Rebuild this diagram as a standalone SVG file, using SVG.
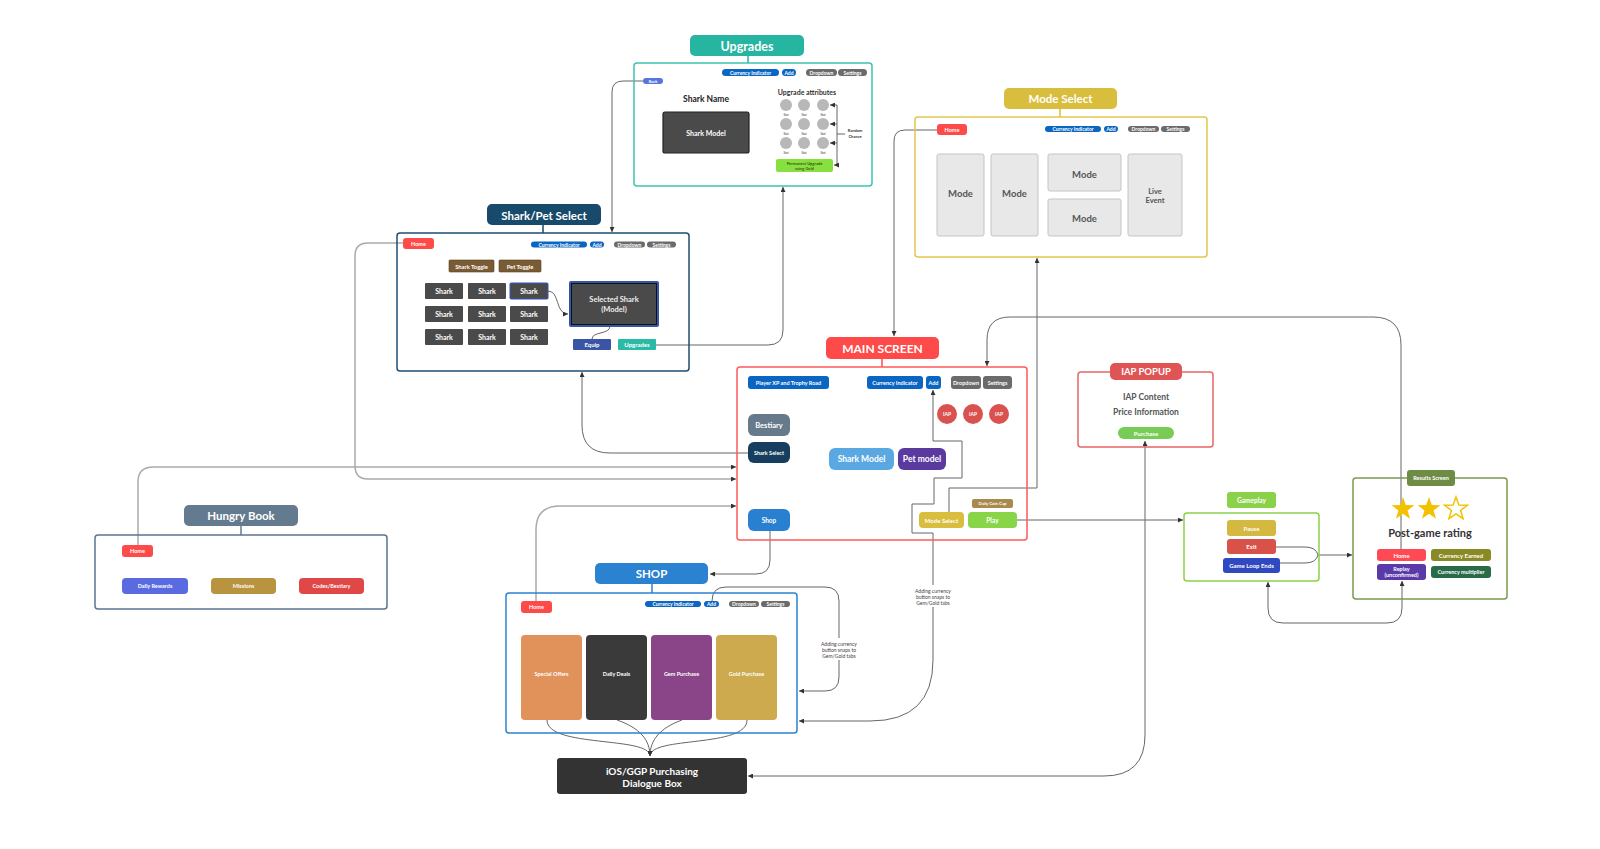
<svg xmlns="http://www.w3.org/2000/svg" width="1600" height="849" viewBox="0 0 1600 849">
<defs>
<marker id="arr" viewBox="0 0 6 6" markerWidth="5" markerHeight="5" refX="6" refY="3" orient="auto-start-reverse" markerUnits="userSpaceOnUse"><path d="M0,0 L6,3 L0,6 z" fill="#333"/></marker>
<polygon id="star" points="0,-12 2.82,-3.88 11.41,-3.71 4.57,1.48 7.05,9.71 0,4.8 -7.05,9.71 -4.57,1.48 -11.41,-3.71 -2.82,-3.88"/>
<style>
text{font-family:Lato,"Liberation Sans",sans-serif;font-weight:bold;text-anchor:middle;dominant-baseline:central}
.w{fill:#fff}
.box{fill:none;stroke-width:1.5}
.c{fill:none;stroke:#666;stroke-width:1}
.h{fill:none;stroke:#aaa;stroke-width:1.5}
.ci{fill:#0a66c2}
.gr{fill:#6b6b6b}
.home{fill:#ff4a4a}
.sh{fill:#4a4a4a}
.tile{fill:#e8e8e8;stroke:#c4c4c4;stroke-width:1}
.mode{fill:#555;font-size:9.5px}
.stat{fill:#b8b8b8}
.st{fill:#333;font-size:3px;font-weight:normal}
.lab{fill:#444;font-size:5px;font-weight:normal}
.sm{font-size:5px}
</style>
</defs>
<rect width="1600" height="849" fill="#fff"/>

<g id="connectors">
<path class="c" d="M937,130 H905 Q894,130 894,141 V336" marker-end="url(#arr)"/>
<path class="c" d="M643,81 H623 Q612,81 612,92 V232" marker-end="url(#arr)"/>
<path class="c" d="M656,345 H768 Q783,345 783,330 V187" marker-end="url(#arr)"/>
<path class="c" d="M748,453 H610 Q582,453 582,425 V372" marker-end="url(#arr)"/>
<path class="h" d="M403,243 H368 Q355,243 355,256 V466 Q355,479 368,479 H736" marker-end="url(#arr)"/>
<path class="h" d="M138,545 V482 Q138,467 153,467 H736" marker-end="url(#arr)"/>
<path class="h" d="M536,601 V530 Q536,506 560,506 H736" marker-end="url(#arr)"/>
<path class="c" d="M770,531 V560 Q770,574 756,574 H710" marker-end="url(#arr)"/>
<path class="c" d="M949,512 V488 H1037 V258" marker-end="url(#arr)"/>
<path class="c" d="M933,390 V441 H962 V478 H934 V504 H912 V533 H933 V660 Q933,721 870,721 H799" marker-start="url(#arr)" marker-end="url(#arr)"/>
<path class="c" d="M712,601 Q712,587 726,587 H825 Q839,587 839,601 V677 Q839,691 825,691 H799" marker-end="url(#arr)"/>
<path class="c" d="M547,720 C547,748 650,736 650,756" marker-end="url(#arr)"/>
<path class="c" d="M617,720 C640,728 650,740 650,756" marker-end="url(#arr)"/>
<path class="c" d="M682,720 C660,728 650,740 650,756" marker-end="url(#arr)"/>
<path class="c" d="M747,720 C747,748 650,736 650,756" marker-end="url(#arr)"/>
<path class="c" d="M1145,441 V735 Q1145,776 1104,776 H748" marker-start="url(#arr)" marker-end="url(#arr)"/>
<path class="c" d="M1017,520 H1183" marker-end="url(#arr)"/>
<path class="c" d="M1276,547 H1305 Q1316,547 1318,555 Q1316,563 1305,563 H1280"/>
<path class="c" d="M1318,555 H1352" marker-end="url(#arr)"/>
<path class="c" d="M1402,581 V608 Q1402,623 1387,623 H1283 Q1268,623 1268,608 V582" marker-start="url(#arr)" marker-end="url(#arr)"/>
<path class="c" d="M1401,549 V345 Q1401,317 1373,317 H1010 Q987,317 987,340 V366" marker-end="url(#arr)"/>
<rect x="908" y="585" width="50" height="22" fill="#fff"/>
<text class="lab" x="933" y="591">Adding currency</text>
<text class="lab" x="933" y="597">button snaps to</text>
<text class="lab" x="933" y="603">Gem/Gold tabs</text>
<rect x="814" y="638" width="50" height="22" fill="#fff"/>
<text class="lab" x="839" y="644">Adding currency</text>
<text class="lab" x="839" y="650">button snaps to</text>
<text class="lab" x="839" y="656">Gem/Gold tabs</text>
</g>

<g id="upgrades">
<rect x="690" y="35" width="114" height="21" rx="5" fill="#26b5a0"/>
<text class="w" x="747" y="46" font-size="12.5">Upgrades</text>
<line x1="748" y1="56" x2="748" y2="63" stroke="#26b5a0" stroke-width="1.5"/>
<rect class="box" x="634" y="63" width="238" height="123" rx="3" stroke="#3cc3b0"/>
<rect x="643" y="78" width="20" height="6" rx="3" fill="#5577dd"/><text class="w" x="653" y="81" font-size="4">Back</text>
<rect class="ci" x="722" y="69" width="57" height="7" rx="3.5"/><text class="w sm" x="750.5" y="72.5">Currency Indicator</text>
<rect class="ci" x="782" y="69" width="14" height="7" rx="3.5"/><text class="w sm" x="789" y="72.5">Add</text>
<rect class="gr" x="806" y="69" width="31" height="7" rx="3.5"/><text class="w sm" x="821.5" y="72.5">Dropdown</text>
<rect class="gr" x="838" y="69" width="29" height="7" rx="3.5"/><text class="w sm" x="852.5" y="72.5">Settings</text>
<text x="706" y="99" font-size="8.5" fill="#222">Shark Name</text>
<rect x="663" y="112" width="86" height="41" rx="2" fill="#4a4a4a" stroke="#222" stroke-width="1.2"/>
<text class="w" x="706" y="133" font-size="7">Shark Model</text>
<text x="807" y="92" font-size="7" fill="#333">Upgrade attributes</text>
<circle class="stat" cx="786" cy="105" r="6"/><circle class="stat" cx="804" cy="105" r="6"/><circle class="stat" cx="823" cy="105" r="6"/>
<circle class="stat" cx="786" cy="124" r="6"/><circle class="stat" cx="804" cy="124" r="6"/><circle class="stat" cx="823" cy="124" r="6"/>
<circle class="stat" cx="786" cy="143" r="6"/><circle class="stat" cx="804" cy="143" r="6"/><circle class="stat" cx="823" cy="143" r="6"/>
<text class="st" x="786" y="115">Stat</text><text class="st" x="804" y="115">Stat</text><text class="st" x="823" y="115">Stat</text>
<text class="st" x="786" y="134">Stat</text><text class="st" x="804" y="134">Stat</text><text class="st" x="823" y="134">Stat</text>
<text class="st" x="786" y="153">Stat</text><text class="st" x="804" y="153">Stat</text><text class="st" x="823" y="153">Stat</text>
<rect x="776" y="159" width="57" height="13" rx="2" fill="#88e040"/>
<text x="804.5" y="163.5" font-size="4" fill="#3a5a10">Permanent Upgrade</text>
<text x="804.5" y="168.5" font-size="4" fill="#3a5a10">using Gold</text>
<path class="c" d="M837,105 V165 M837,134 H845"/>
<path class="c" d="M837,105 H830" marker-end="url(#arr)"/>
<path class="c" d="M837,124 H830" marker-end="url(#arr)"/>
<path class="c" d="M837,143 H830" marker-end="url(#arr)"/>
<path class="c" d="M837,165 H834" marker-end="url(#arr)"/>
<text x="855" y="130" font-size="4" fill="#333">Random</text>
<text x="855" y="136" font-size="4" fill="#333">Chance</text>
</g>

<g id="shark-pet-select">
<rect x="487" y="204" width="114" height="21" rx="5" fill="#174a6b"/>
<text class="w" x="544" y="215" font-size="11.5">Shark/Pet Select</text>
<line x1="543" y1="225" x2="543" y2="233" stroke="#174a6b" stroke-width="1.5"/>
<rect class="box" x="397" y="233" width="292" height="138" rx="3" stroke="#1f4d70"/>
<rect class="home" x="403" y="238" width="31" height="11" rx="3"/><text class="w" x="418.5" y="243.5" font-size="5.5">Home</text>
<rect class="ci" x="531" y="241.5" width="56" height="6" rx="3"/><text class="w sm" x="559" y="244.5">Currency Indicator</text>
<rect class="ci" x="590" y="241.5" width="14" height="6" rx="3"/><text class="w sm" x="597" y="244.5">Add</text>
<rect class="gr" x="614" y="241.5" width="31" height="6" rx="3"/><text class="w sm" x="629.5" y="244.5">Dropdown</text>
<rect class="gr" x="647" y="241.5" width="29" height="6" rx="3"/><text class="w sm" x="661.5" y="244.5">Settings</text>
<rect x="449" y="260" width="45" height="12" rx="1" fill="#7a5c34" stroke="#5a4020" stroke-width="0.6"/><text class="w" x="471.5" y="266" font-size="5.8">Shark Toggle</text>
<rect x="499" y="260" width="42" height="12" rx="1" fill="#7a5c34" stroke="#5a4020" stroke-width="0.6"/><text class="w" x="520" y="266" font-size="5.8">Pet Toggle</text>
<rect class="sh" x="425" y="283" width="38" height="16" rx="1"/><text class="w" x="444" y="291" font-size="7">Shark</text>
<rect class="sh" x="468" y="283" width="38" height="16" rx="1"/><text class="w" x="487" y="291" font-size="7">Shark</text>
<rect class="sh" x="510" y="283" width="38" height="16" rx="1" stroke="#3355bb" stroke-width="1"/><text class="w" x="529" y="291" font-size="7">Shark</text>
<rect class="sh" x="425" y="306" width="38" height="16" rx="1"/><text class="w" x="444" y="314" font-size="7">Shark</text>
<rect class="sh" x="468" y="306" width="38" height="16" rx="1"/><text class="w" x="487" y="314" font-size="7">Shark</text>
<rect class="sh" x="510" y="306" width="38" height="16" rx="1"/><text class="w" x="529" y="314" font-size="7">Shark</text>
<rect class="sh" x="425" y="329" width="38" height="16" rx="1"/><text class="w" x="444" y="337" font-size="7">Shark</text>
<rect class="sh" x="468" y="329" width="38" height="16" rx="1"/><text class="w" x="487" y="337" font-size="7">Shark</text>
<rect class="sh" x="510" y="329" width="38" height="16" rx="1"/><text class="w" x="529" y="337" font-size="7">Shark</text>
<path class="c" d="M548,291 C560,291 555,314 568,314" marker-end="url(#arr)"/>
<path class="c" d="M610,326 C610,335 592,331 592,339" stroke="#333" stroke-width="1.2"/>
<rect x="570" y="282" width="88" height="44" rx="1" fill="#4a4a4a" stroke="#3355aa" stroke-width="2"/>
<rect x="571.5" y="283.5" width="85" height="41" fill="none" stroke="#111" stroke-width="1"/>
<text x="614" y="299" font-size="7.5" fill="#eee">Selected Shark</text>
<text x="614" y="309" font-size="7.5" fill="#eee">(Model)</text>
<rect x="573" y="339" width="38" height="11" rx="1" fill="#3a55a5"/><text class="w" x="592" y="344.5" font-size="6">Equip</text>
<rect x="618" y="339" width="38" height="11" rx="1" fill="#2bbaa5"/><text class="w" x="637" y="344.5" font-size="6">Upgrades</text>
</g>

<g id="mode-select">
<rect x="1004" y="88" width="113" height="21" rx="5" fill="#d9be3e"/>
<text class="w" x="1060.5" y="98.5" font-size="11.5">Mode Select</text>
<line x1="1060" y1="109" x2="1060" y2="117" stroke="#d9be3e" stroke-width="1.5"/>
<rect class="box" x="915" y="117" width="292" height="140" rx="3" stroke="#e3c64e"/>
<rect class="home" x="937" y="124" width="30" height="11" rx="3"/><text class="w" x="952" y="129.5" font-size="5.5">Home</text>
<rect class="ci" x="1045" y="126" width="56" height="6" rx="3"/><text class="w sm" x="1073" y="129">Currency Indicator</text>
<rect class="ci" x="1104" y="126" width="14" height="6" rx="3"/><text class="w sm" x="1111" y="129">Add</text>
<rect class="gr" x="1128" y="126" width="31" height="6" rx="3"/><text class="w sm" x="1143.5" y="129">Dropdown</text>
<rect class="gr" x="1161" y="126" width="29" height="6" rx="3"/><text class="w sm" x="1175.5" y="129">Settings</text>
<rect class="tile" x="937" y="154" width="47" height="82" rx="2"/><text class="mode" x="960.5" y="193">Mode</text>
<rect class="tile" x="991" y="154" width="47" height="82" rx="2"/><text class="mode" x="1014.5" y="193">Mode</text>
<rect class="tile" x="1048" y="154" width="73" height="37" rx="2"/><text class="mode" x="1084.5" y="174">Mode</text>
<rect class="tile" x="1048" y="199" width="73" height="37" rx="2"/><text class="mode" x="1084.5" y="218">Mode</text>
<rect class="tile" x="1128" y="154" width="54" height="82" rx="2"/>
<text x="1155" y="191" font-size="7.5" fill="#555">Live</text>
<text x="1155" y="200" font-size="7.5" fill="#555">Event</text>
</g>

<g id="main-screen">
<rect x="826" y="337" width="113" height="22" rx="5" fill="#ff4a4a"/>
<text class="w" x="882.5" y="348" font-size="12">MAIN SCREEN</text>
<line x1="882" y1="359" x2="882" y2="367" stroke="#ff4a4a" stroke-width="1.5"/>
<rect class="box" x="737" y="367" width="290" height="173" rx="3" stroke="#ff5a5a"/>
<rect class="ci" x="748" y="376" width="81" height="13" rx="3"/><text class="w" x="788.5" y="382.5" font-size="5.5">Player XP and Trophy Road</text>
<rect class="ci" x="867" y="376" width="56" height="13" rx="3"/><text class="w" x="895" y="382.5" font-size="5.5">Currency Indicator</text>
<rect class="ci" x="926" y="376" width="15" height="13" rx="3"/><text class="w" x="933.5" y="382.5" font-size="5.5">Add</text>
<rect class="gr" x="951" y="376" width="30" height="13" rx="3"/><text class="w" x="966" y="382.5" font-size="5.5">Dropdown</text>
<rect class="gr" x="983" y="376" width="29" height="13" rx="3"/><text class="w" x="997.5" y="382.5" font-size="5.5">Settings</text>
<circle cx="947" cy="414" r="10" fill="#d9524f"/><text class="w" x="947" y="414" font-size="5">IAP</text>
<circle cx="973" cy="414" r="10" fill="#d9524f"/><text class="w" x="973" y="414" font-size="5">IAP</text>
<circle cx="999" cy="414" r="10" fill="#d9524f"/><text class="w" x="999" y="414" font-size="5">IAP</text>
<rect x="748" y="414" width="42" height="22" rx="6" fill="#667a8c"/><text class="w" x="769" y="425" font-size="7.5">Bestiary</text>
<rect x="748" y="442" width="42" height="21" rx="6" fill="#163f5f"/><text class="w" x="769" y="452.5" font-size="5.5">Shark Select</text>
<rect x="829" y="448" width="65" height="22" rx="6" fill="#5aa8e2"/><text class="w" x="861.5" y="459" font-size="8.5">Shark Model</text>
<rect x="898" y="448" width="48" height="22" rx="6" fill="#5b3aa0"/><text class="w" x="922" y="459" font-size="8.5">Pet model</text>
<rect x="748" y="509" width="42" height="22" rx="6" fill="#2a80d0"/><text class="w" x="769" y="520" font-size="6.5">Shop</text>
<rect x="972" y="499" width="41" height="9" rx="2" fill="#a88a4e"/><text class="w" x="992.5" y="503.5" font-size="4.3">Daily Coin Cap</text>
<rect x="919" y="512" width="45" height="16" rx="4" fill="#d9be3e"/><text class="w" x="941.5" y="520" font-size="6">Mode Select</text>
<rect x="968" y="512" width="49" height="16" rx="4" fill="#88d648"/><text class="w" x="992.5" y="520" font-size="6.5">Play</text>
</g>

<g id="iap-popup">
<rect class="box" x="1078" y="372" width="135" height="75" rx="3" stroke="#e86565"/>
<rect x="1110" y="363" width="72" height="17" rx="5" fill="#df5555"/>
<text class="w" x="1146" y="371.5" font-size="9.5">IAP POPUP</text>
<text x="1146" y="397" font-size="8.5" fill="#555">IAP Content</text>
<text x="1146" y="412" font-size="8.5" fill="#555">Price Information</text>
<rect x="1118" y="427" width="56" height="12" rx="6" fill="#78cc55"/><text class="w" x="1146" y="433" font-size="6">Purchase</text>
</g>

<g id="gameplay">
<rect x="1227" y="492" width="49" height="16" rx="3" fill="#8ad24a"/><text class="w" x="1251.5" y="500" font-size="6.5">Gameplay</text>
<rect class="box" x="1184" y="513" width="135" height="68" rx="3" stroke="#8ad24a"/>
<rect x="1227" y="520" width="49" height="16" rx="3" fill="#d4b840"/><text class="w" x="1251.5" y="528" font-size="6">Pause</text>
<rect x="1227" y="539" width="49" height="15" rx="3" fill="#d9524a"/><text class="w" x="1251.5" y="546.5" font-size="6">Exit</text>
<rect x="1223" y="558" width="57" height="15" rx="3" fill="#3048c0"/><text class="w" x="1251.5" y="565.5" font-size="6">Game Loop Ends</text>
</g>

<g id="results-screen">
<rect class="box" x="1353" y="478" width="154" height="121" rx="3" stroke="#7a9a50"/>
<rect x="1407" y="470" width="48" height="16" rx="3" fill="#6e8c45"/><text class="w" x="1431" y="478" font-size="5.5">Results Screen</text>
<use href="#star" x="1403" y="509" fill="#f2c200"/>
<use href="#star" x="1429" y="509" fill="#f2c200"/>
<use href="#star" x="1456" y="509" fill="#fff" stroke="#f2c200" stroke-width="1.5"/>
<text x="1430" y="532" font-size="11" fill="#333">Post-game rating</text>
<rect x="1377" y="549" width="49" height="12" rx="3" fill="#ff4a55"/><text class="w" x="1401.5" y="555" font-size="6">Home</text>
<rect x="1431" y="549" width="60" height="12" rx="3" fill="#8a8a25"/><text class="w" x="1461" y="555" font-size="6">Currency Earned</text>
<rect x="1377" y="564" width="49" height="16" rx="3" fill="#5a3aa8"/>
<text class="w" x="1401.5" y="569" font-size="5.5">Replay</text>
<text class="w" x="1401.5" y="575" font-size="5.5">(unconfirmed)</text>
<rect x="1431" y="566" width="60" height="12" rx="3" fill="#2a6a48"/><text class="w" x="1461" y="572" font-size="5.5">Currency multiplier</text>
</g>

<g id="hungry-book">
<rect x="184" y="505" width="114" height="21" rx="5" fill="#647a8e"/>
<text class="w" x="241" y="515.5" font-size="11.5">Hungry Book</text>
<line x1="241" y1="526" x2="241" y2="535" stroke="#647a8e" stroke-width="1.5"/>
<rect class="box" x="95" y="535" width="292" height="74" rx="3" stroke="#5a7590"/>
<rect class="home" x="122" y="545" width="31" height="12" rx="3"/><text class="w" x="137.5" y="551" font-size="5.5">Home</text>
<rect x="122" y="578" width="66" height="16" rx="4" fill="#5a6ae0"/><text class="w" x="155" y="586" font-size="5.5">Daily Rewards</text>
<rect x="211" y="578" width="65" height="16" rx="4" fill="#b89440"/><text class="w" x="243.5" y="586" font-size="5.5">Missions</text>
<rect x="299" y="578" width="65" height="16" rx="4" fill="#e04848"/><text class="w" x="331.5" y="586" font-size="5.5">Codes/Bestiary</text>
</g>

<g id="shop">
<rect x="595" y="563" width="113" height="21" rx="5" fill="#2a82d0"/>
<text class="w" x="651.5" y="573.5" font-size="11.5">SHOP</text>
<line x1="652" y1="584" x2="652" y2="593" stroke="#2a82d0" stroke-width="1.5"/>
<rect class="box" x="506" y="593" width="291" height="140" rx="3" stroke="#2a82d0"/>
<rect class="home" x="521" y="601" width="31" height="12" rx="3"/><text class="w" x="536.5" y="607" font-size="5.5">Home</text>
<rect class="ci" x="645" y="601" width="56" height="6" rx="3"/><text class="w sm" x="673" y="604">Currency Indicator</text>
<rect class="ci" x="704" y="601" width="15" height="6" rx="3"/><text class="w sm" x="711.5" y="604">Add</text>
<rect class="gr" x="729" y="601" width="30" height="6" rx="3"/><text class="w sm" x="744" y="604">Dropdown</text>
<rect class="gr" x="761" y="601" width="29" height="6" rx="3"/><text class="w sm" x="775.5" y="604">Settings</text>
<rect x="521" y="635" width="61" height="85" rx="4" fill="#e0925a"/><text class="w" x="551.5" y="674" font-size="5.5">Special Offers</text>
<rect x="586" y="635" width="61" height="85" rx="4" fill="#3a3a3a"/><text class="w" x="616.5" y="674" font-size="5.5">Daily Deals</text>
<rect x="651" y="635" width="61" height="85" rx="4" fill="#8a4588"/><text class="w" x="681.5" y="674" font-size="5.5">Gem Purchase</text>
<rect x="716" y="635" width="61" height="85" rx="4" fill="#cdaa4e"/><text class="w" x="746.5" y="674" font-size="5.5">Gold Purchase</text>
</g>

<g id="purchasing-dialogue">
<rect x="557" y="758" width="190" height="36" rx="3" fill="#333"/>
<text class="w" x="652" y="770.5" font-size="10">iOS/GGP Purchasing</text>
<text class="w" x="652" y="782.5" font-size="10">Dialogue Box</text>
</g>
</svg>
